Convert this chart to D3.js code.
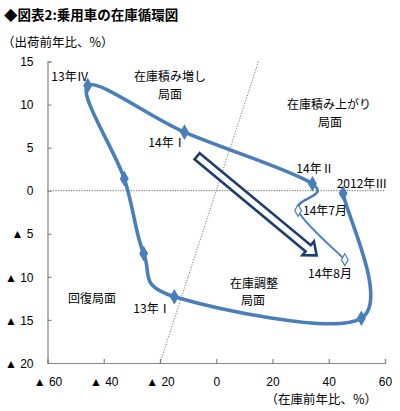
<!DOCTYPE html>
<html><head><meta charset="utf-8">
<script src="https://cdn.jsdelivr.net/npm/d3@7"></script>
<style>
body{margin:0;background:#fff;}
svg{display:block;font-family:"Liberation Sans","Noto Sans CJK JP",sans-serif;}
</style></head>
<body><svg id="c" width="400" height="411"></svg>
<script>
// Data: inventory YoY (x) and shipment YoY (y), %
const labels = ["2012年Ⅲ","2012年Ⅳ","13年Ⅰ","13年Ⅱ","13年Ⅲ","13年Ⅳ","14年Ⅰ","14年Ⅱ","14年7月","14年8月"];
const inventoryYoY = [45.1, 51.6, -14.9, -25.8, -32.7, -45.7, -11.3, 34.2, 29.1, 45.7];
const shipmentYoY  = [-0.3, -14.8, -12.3, -7.3, 1.4, 12.2, 6.8, 0.8, -2.3, -8.0];
const monthly      = [false,false,false,false,false,false,false,false,true,true];
const xTicks = [-60,-40,-20,0,20,40,60];
const yTicks = [15,10,5,0,-5,-10,-15,-20];
const arrowFrom = [-6.8, 4.0], arrowTo = [35.7, -7.5];

const svg = d3.select("#c");
const x = d3.scaleLinear().domain([-60,60]).range([47.5,385]);
const y = d3.scaleLinear().domain([-20,15]).range([363,61.5]);
const fmt = v => v < 0 ? "▲ " + Math.abs(v) : String(v);
const JP = "'Noto Sans CJK JP',sans-serif";

// Title
svg.append("text").attr("x",4).attr("y",20).attr("font-size",13.5).attr("font-weight","bold")
  .attr("font-family",JP).text("◆図表2:乗用車の在庫循環図");
svg.append("text").attr("x",2).attr("y",47).attr("font-size",12.5)
  .attr("font-family",JP).text("（出荷前年比、%）");
svg.append("text").attr("x",377).attr("y",404).attr("font-size",12.5).attr("text-anchor","end")
  .attr("font-family",JP).text("（在庫前年比、%）");

// Axes
const gx = svg.append("g").attr("transform",`translate(0,${y(-20)})`)
  .call(d3.axisBottom(x).tickValues(xTicks).tickSize(-4).tickPadding(12).tickFormat(fmt));
const gy = svg.append("g").attr("transform",`translate(${x(-60)},0)`)
  .call(d3.axisLeft(y).tickValues(yTicks).tickSize(-4).tickPadding(14).tickFormat(fmt));
[gx,gy].forEach(g=>{
  g.select(".domain").attr("stroke","#868686").attr("stroke-width",1.2);
  g.selectAll(".tick line").attr("stroke","#868686").attr("stroke-width",1.2);
  g.selectAll(".tick text").attr("font-size",12).attr("fill","#000")
   .attr("font-family","'Liberation Sans','Noto Sans CJK JP',sans-serif");
});
gy.selectAll(".tick text").attr("dy","0.35em");
gx.selectAll(".tick text").attr("dy","0.9em");

// Reference lines
svg.append("line").attr("x1",x(-60)).attr("x2",x(60)).attr("y1",y(0)).attr("y2",y(0))
  .attr("stroke","#8c8c8c").attr("stroke-width",1.3).attr("stroke-dasharray","1.3,1.3");
svg.append("line").attr("x1",x(-20)).attr("y1",y(-20)).attr("x2",x(15)).attr("y2",y(15))
  .attr("stroke","#555").attr("stroke-width",0.8).attr("stroke-dasharray","1.2,1.5");

// Smoothed curve (cardinal, Excel-like), drawn segment by segment
const P = inventoryYoY.map((v,i)=>[x(v), y(shipmentYoY[i])]);
const n = P.length;
function seg(i){
  const p0 = P[Math.max(i-1,0)], p1 = P[i], p2 = P[i+1], p3 = P[Math.min(i+2,n-1)];
  const c1 = [p1[0]+(p2[0]-p0[0])/6, p1[1]+(p2[1]-p0[1])/6];
  const c2 = [p2[0]-(p3[0]-p1[0])/6, p2[1]-(p3[1]-p1[1])/6];
  const path = d3.path(); path.moveTo(p1[0],p1[1]);
  path.bezierCurveTo(c1[0],c1[1],c2[0],c2[1],p2[0],p2[1]);
  return path.toString();
}
let mainD = "";
for(let i=0;i<7;i++){ mainD += seg(i); }
svg.append("path").attr("d",mainD).attr("fill","none").attr("stroke","#4a7ebb")
  .attr("stroke-width",3.6).attr("stroke-linecap","round").attr("stroke-linejoin","round");
svg.append("path").attr("d",seg(7)).attr("fill","none").attr("stroke","#4a7ebb").attr("stroke-width",2.6);
svg.append("path").attr("d",seg(8)).attr("fill","none").attr("stroke","#4a7ebb").attr("stroke-width",2);

// Markers
const dia = d3.symbol().type(d3.symbolDiamond);
inventoryYoY.forEach((v,i)=>{
  const m = svg.append("path").attr("transform",`translate(${x(v)},${y(shipmentYoY[i])})`);
  if(monthly[i]) m.attr("d",dia.size(40)()).attr("fill","#fff").attr("stroke","#4a7ebb").attr("stroke-width",1.2);
  else m.attr("d",dia.size(70)()).attr("fill","#4a7ebb");
});

// Block arrow
(function(){
  const x0=x(arrowFrom[0]), y0=y(arrowFrom[1]), x1=x(arrowTo[0]), y1=y(arrowTo[1]);
  const L = Math.hypot(x1-x0,y1-y0), ang = Math.atan2(y1-y0,x1-x0)*180/Math.PI;
  const sw=4, hw=9, hl=11;
  const pts=[[0,-sw],[L-hl,-sw],[L-hl,-hw],[L,0],[L-hl,hw],[L-hl,sw],[0,sw]];
  svg.append("polygon").attr("points",pts.map(p=>p.join(",")).join(" "))
    .attr("transform",`translate(${x0},${y0}) rotate(${ang})`)
    .attr("fill","#fff").attr("stroke","#1f3e6e").attr("stroke-width",2.6).attr("stroke-linejoin","miter");
})();

// Annotations
const notes = [
  ["13年Ⅳ",70,81,"middle"],["在庫積み増し",170,81,"middle"],["局面",170,99,"middle"],
  ["在庫積み上がり",329,109,"middle"],["局面",330,127,"middle"],
  ["14年Ⅰ",167,147,"middle"],["14年Ⅱ",315,173,"middle"],["2012年Ⅲ",362,188,"middle"],
  ["14年7月",303,215,"start"],["14年8月",330,278,"middle"],
  ["在庫調整",254,288,"middle"],["局面",253,305,"middle"],
  ["回復局面",92,303,"middle"],["13年Ⅰ",152,313,"middle"]
];
notes.forEach(([t,tx,ty,a])=>svg.append("text").attr("x",tx).attr("y",ty).attr("text-anchor",a)
  .attr("font-size",12).attr("font-family",JP).text(t));
</script></body></html>
